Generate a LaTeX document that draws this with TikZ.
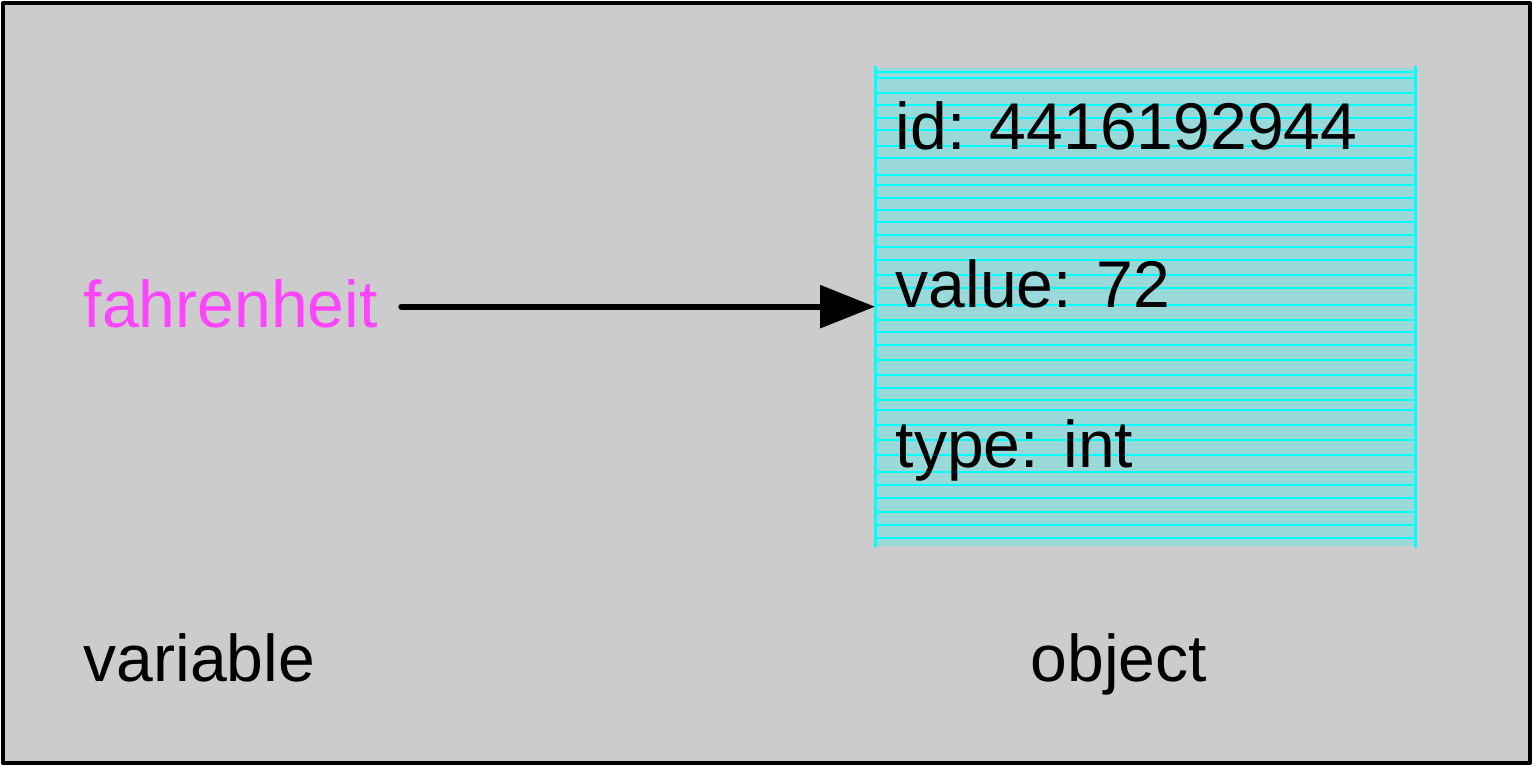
\documentclass[tikz,border=0pt]{standalone}
\usepackage{fontspec}
\setmainfont{Liberation Sans}
\usetikzlibrary{arrows.meta,positioning}
\definecolor{panelgray}{HTML}{CCCCCC}
\definecolor{objfill}{HTML}{99D9D9}
\definecolor{hatch}{HTML}{00FFFF}
\definecolor{varpink}{HTML}{FF44FF}
\begin{document}
\begin{tikzpicture}[line cap = round, line join = round]
	\tikzstyle{label}=[font=\fontsize{18.8}{22}\selectfont,inner sep=0pt,anchor=base west]
	\tikzstyle{objbox}=[fill=objfill,minimum width=5.39cm,minimum height=4.78cm,inner sep=0pt,anchor=north west]
	\useasboundingbox (0,0) rectangle (15.33,-7.66);
	\draw[line width=0.04cm,fill=panelgray] (0.03,-0.03) rectangle (15.30,-7.63);
	\node[objbox] (obj) at (8.75,-0.67) {};
	\foreach \y in {0.72,0.78,0.93,1.05,1.18,1.3,1.46,1.58,1.75,1.85,1.98,2.1,2.22,2.35,2.47,2.6,2.75,2.88,3.05,3.2,3.32,3.45,3.6,3.75,3.88,4,4.1,4.25,4.4,4.55,4.72,4.85,4.98,5.12,5.25,5.38} {\draw[hatch,line width=0.4pt] (8.76,-\y) -- (14.13,-\y);}
	\draw[hatch,line width=0.03cm] (obj.north west) -- (obj.south west);
	\draw[hatch,line width=0.03cm] (obj.north east) -- (obj.south east);
	\node[label] (idtext) at (8.95,-1.50) {id: 4416192944};
	\node[label] (valtext) at (8.95,-3.08) {value: 72};
	\node[label] (typetext) at (8.95,-4.68) {type: int};
	\node[label,text=varpink] (fahr) at (0.83,-3.28) {fahrenheit};
	\node[label] (varlabel) at (0.83,-6.82) {variable};
	\node[label] (objlabel) at (10.30,-6.82) {object};
	\draw[line width=0.06cm,-{Triangle[length=0.55cm,width=0.42cm]}] (fahr.east |- obj.west) ++(0.23,0) coordinate (start) (start) -- (obj.west);
\end{tikzpicture}
\end{document}
